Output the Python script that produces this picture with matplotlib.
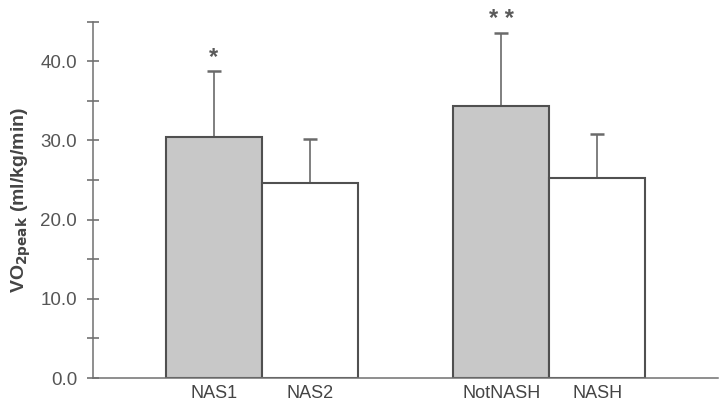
import numpy as np
import matplotlib.pyplot as plt
from matplotlib.ticker import MultipleLocator

plt.rcParams['font.family'] = ['Liberation Sans', 'DejaVu Sans']

# data
groups = ['NAS1', 'NAS2', 'NotNASH', 'NASH']
vo2 = [30.4, 24.6, 34.3, 25.2]
sd = [8.4, 5.6, 9.3, 5.6]
stars = ['*', '', '* *', '']
xpos = [0, 1, 3, 4]
fills = ['#c8c8c8', 'white', '#c8c8c8', 'white']

fig = plt.figure(figsize=(7.23, 4.08), dpi=100)
ax = fig.add_axes([0.1286, 0.0735, 0.8644, 0.8733])

ax.bar(xpos, vo2, width=1.0, color=fills, edgecolor='#505050', linewidth=1.5, zorder=2)
ax.errorbar(xpos, vo2, yerr=[np.zeros(len(sd)), sd], fmt='none', ecolor='#6a6a6a',
            elinewidth=1.2, capsize=4.7, capthick=1.8, zorder=1)

for x, v, s, st in zip(xpos, vo2, sd, stars):
    if st:
        ax.text(x, v + s + 0.2, st, ha='center', va='bottom', fontsize=17,
                fontweight='bold', color='#5a5a5a')

ax.set_xlim(-1.26, 5.26)
ax.set_ylim(0, 45)
ax.set_xticks(xpos)
ax.set_xticklabels(groups, fontsize=13, color='#444444')
ax.tick_params(axis='x', length=0, pad=5)

ax.yaxis.set_major_locator(MultipleLocator(10))
ax.yaxis.set_minor_locator(MultipleLocator(5))
ax.set_yticks([0, 10, 20, 30, 40])
ax.set_yticklabels(['0.0', '10.0', '20.0', '30.0', '40.0'], fontsize=13.5, color='#555555')
ax.tick_params(axis='y', which='both', direction='inout', length=9, width=1.1,
               color='#666666', pad=7)

for side in ['top', 'right']:
    ax.spines[side].set_visible(False)
for side in ['left', 'bottom']:
    ax.spines[side].set_color('#707070')
    ax.spines[side].set_linewidth(1.1)

ax.set_ylabel(r'VO$_{\mathbf{2peak}}$ (ml/kg/min)', fontsize=14, fontweight='bold',
              color='#444444', labelpad=5)

fig.savefig('out.png', dpi=100)
